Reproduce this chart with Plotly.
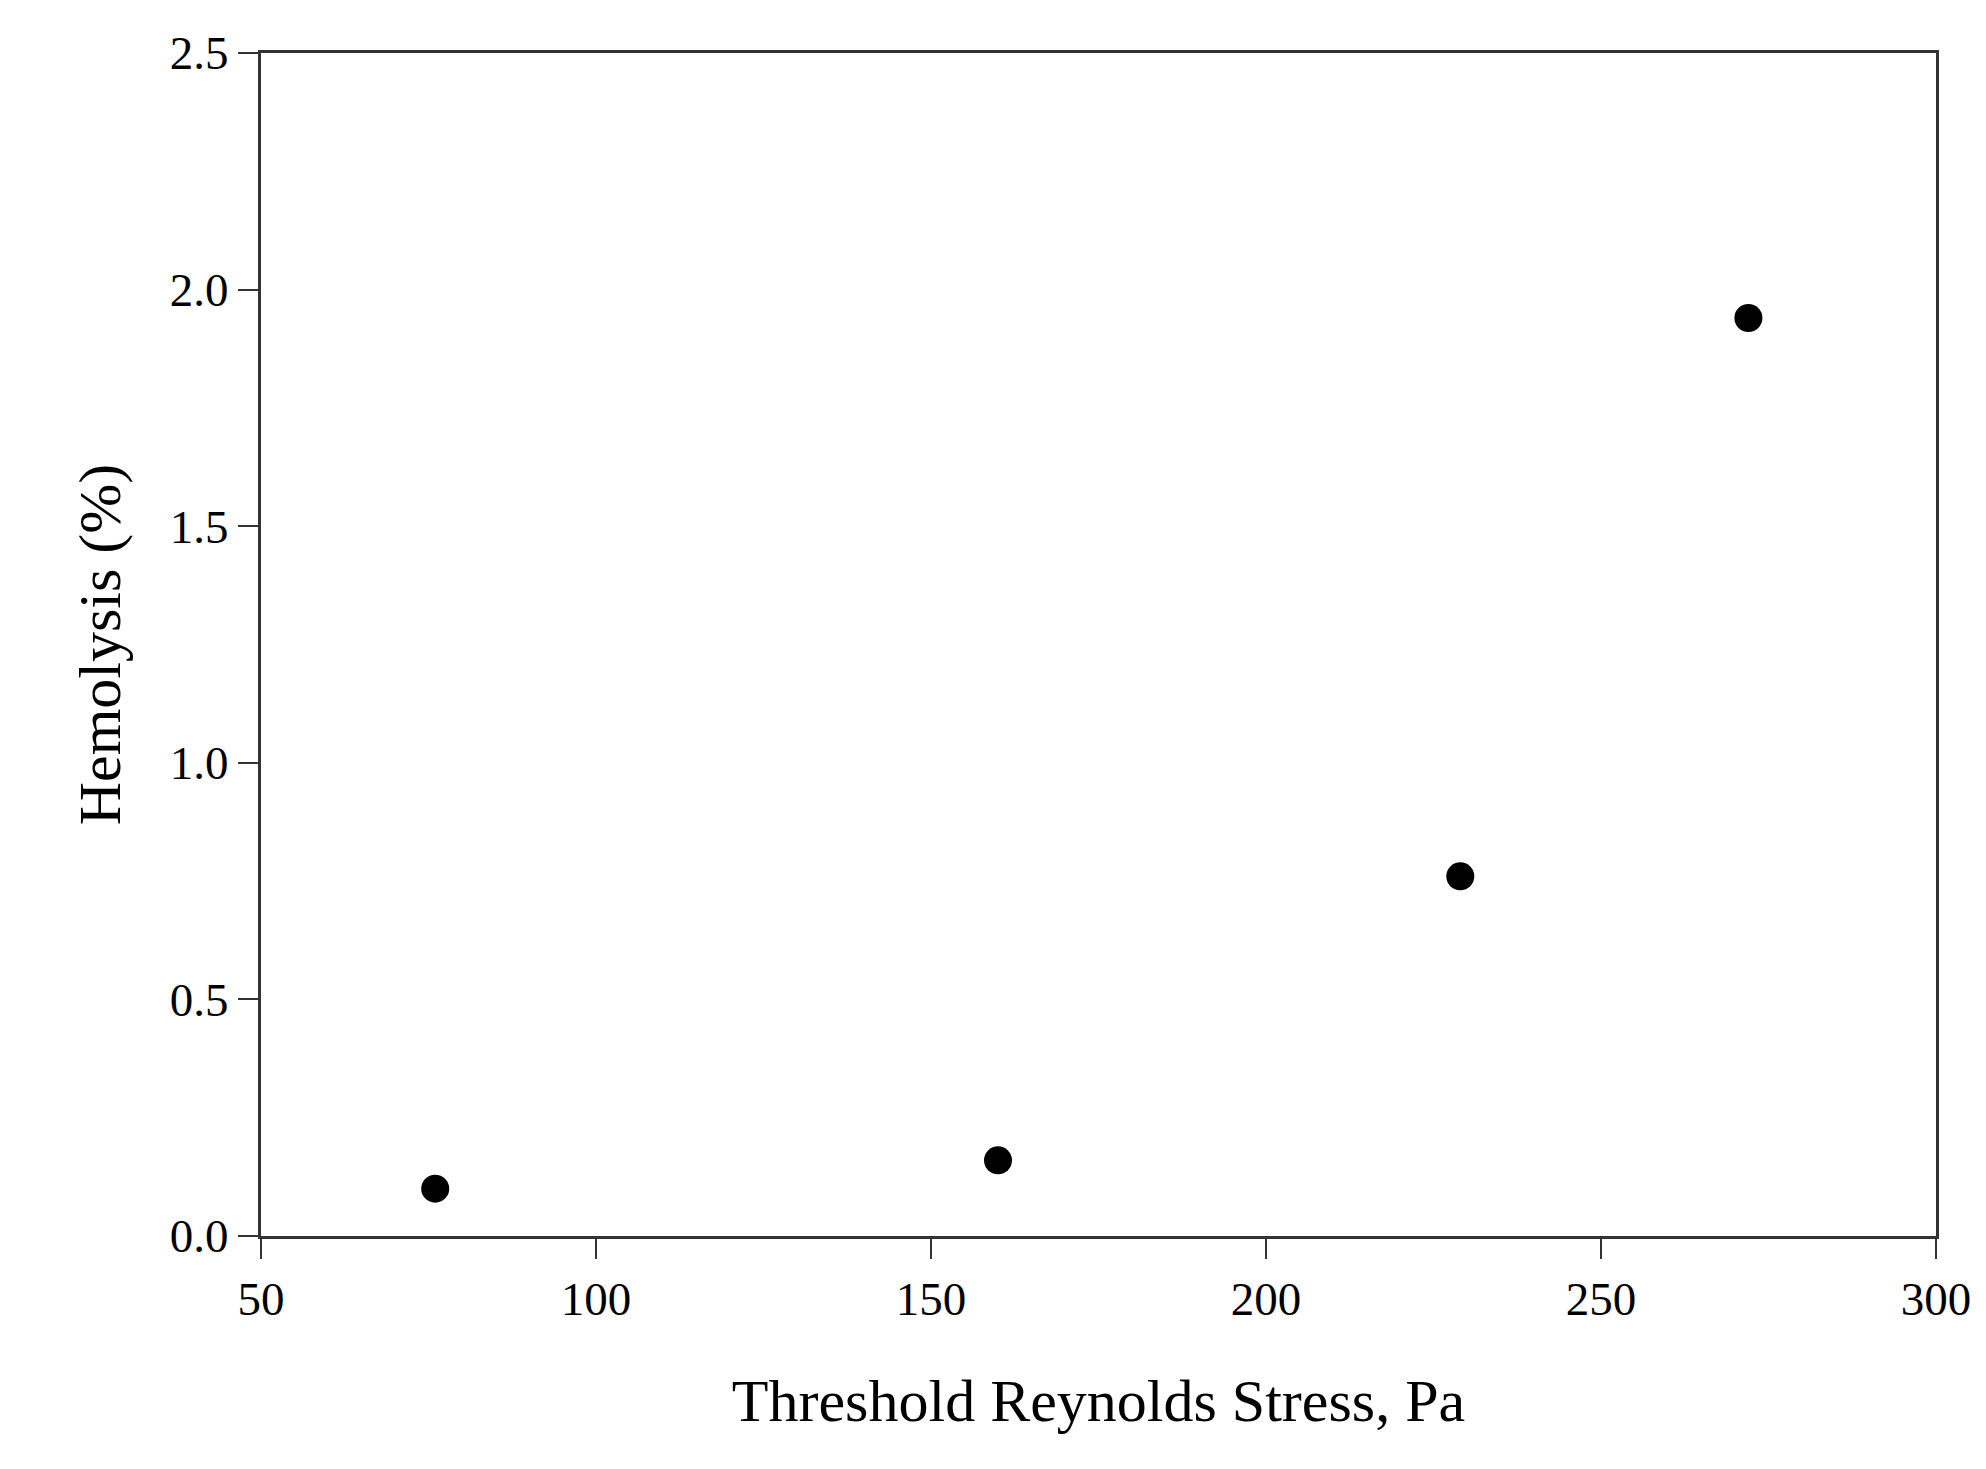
import plotly.graph_objects as go

# 阈值雷诺应力与溶血率
stress = [76, 160, 229, 272]
hemolysis = [0.10, 0.16, 0.76, 1.94]
x_ticks = [50, 100, 150, 200, 250, 300]
y_ticks = [0.0, 0.5, 1.0, 1.5, 2.0, 2.5]

fig = go.Figure(go.Scatter(x=stress, y=hemolysis, mode='markers',
                           marker=dict(color='black', size=28)))

axis_common = dict(showline=True, linecolor='#333', linewidth=3, mirror=True,
                   ticks='outside', ticklen=20, tickwidth=2, tickcolor='#333',
                   showgrid=False, zeroline=False,
                   tickfont=dict(family='Liberation Serif', size=47, color='black'))
fig.update_xaxes(range=[50, 300], tickvals=x_ticks, ticktext=[str(v) for v in x_ticks],
                 title=dict(text='Threshold Reynolds Stress, Pa', standoff=55,
                            font=dict(family='Liberation Serif', size=60, color='black')),
                 **axis_common)
fig.update_yaxes(range=[0, 2.5], tickvals=y_ticks, ticktext=[f'{v:.1f}' for v in y_ticks],
                 title=dict(text='Hemolysis (%)', standoff=30,
                            font=dict(family='Liberation Serif', size=60, color='black')),
                 **axis_common)
fig.update_layout(width=1986, height=1469, plot_bgcolor='white', paper_bgcolor='white',
                  margin=dict(l=253, r=58, t=45, b=241), showlegend=False)
fig.write_html("out.html")
